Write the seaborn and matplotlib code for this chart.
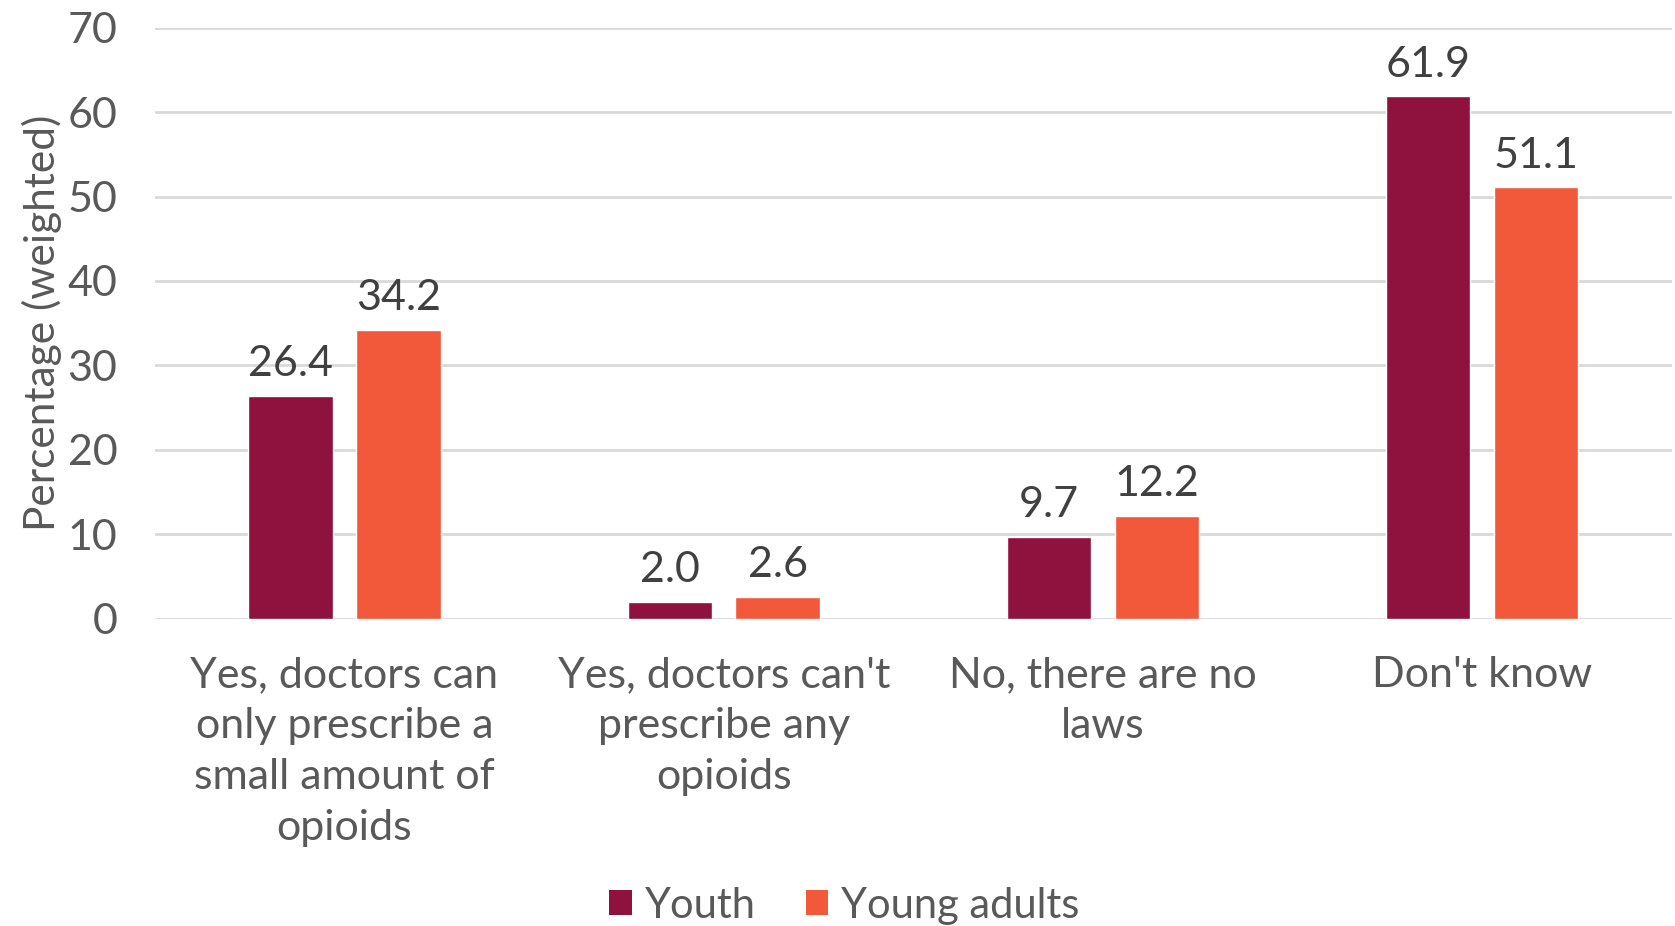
import matplotlib
matplotlib.use("Agg")
import matplotlib.pyplot as plt
import seaborn as sns
import pandas as pd
from matplotlib.patches import Patch

categories = [
    "Yes, doctors can\nonly prescribe a\nsmall amount of\nopioids",
    "Yes, doctors can't\nprescribe any\nopioids",
    "No, there are no\nlaws",
    "Don't know",
]
series_names = ["Youth", "Young adults"]
youth = [26.4, 2.0, 9.7, 61.9]
young_adults = [34.2, 2.6, 12.2, 51.1]
y_ticks = [0, 10, 20, 30, 40, 50, 60, 70]
colors = ["#8E113E", "#F2583A"]

df = pd.DataFrame({
    "category": categories * 2,
    "group": [series_names[0]] * 4 + [series_names[1]] * 4,
    "value": youth + young_adults,
})

sns.set_theme(style="white")
plt.rcParams["font.family"] = ["Lato", "DejaVu Sans"]

fig = plt.figure(figsize=(16.75, 9.26), dpi=100)
ax = fig.add_axes([0.0925, 0.332, 0.9055, 0.638])

sns.barplot(data=df, x="category", y="value", hue="group", order=categories,
            hue_order=series_names, palette=colors, width=0.569, gap=0.218,
            saturation=1, ax=ax, legend=False, zorder=3)

for container in ax.containers:
    ax.bar_label(container, fmt="%.1f", padding=9, fontsize=31, color="#404040")

ax.set_ylim(0, 70)
ax.set_xlim(-0.5, 3.5)
ax.set_yticks(y_ticks)
ax.yaxis.grid(True, color="#D9D9D9", linewidth=2, zorder=0)
ax.set_axisbelow(True)
for s in ax.spines.values():
    s.set_visible(False)
ax.tick_params(axis="y", labelsize=31, colors="#595959", length=0, pad=27)
ax.tick_params(axis="x", labelsize=31, colors="#595959", length=0, pad=27)
ax.set_xlabel("")
ax.set_ylabel("Percentage (weighted)", fontsize=30.5, color="#595959", labelpad=4)
for lbl in ax.get_xticklabels():
    lbl.set_linespacing(1.42)

handles = [Patch(facecolor=c, edgecolor="none") for c in colors]
fig.legend(handles, series_names, loc="lower center", bbox_to_anchor=(0.504, -0.039),
           ncol=2, frameon=False, fontsize=30, labelcolor="#595959",
           handlelength=0.55, handleheight=0.55, handletextpad=0.3, columnspacing=1.2)

fig.savefig("out.png", dpi=100)
